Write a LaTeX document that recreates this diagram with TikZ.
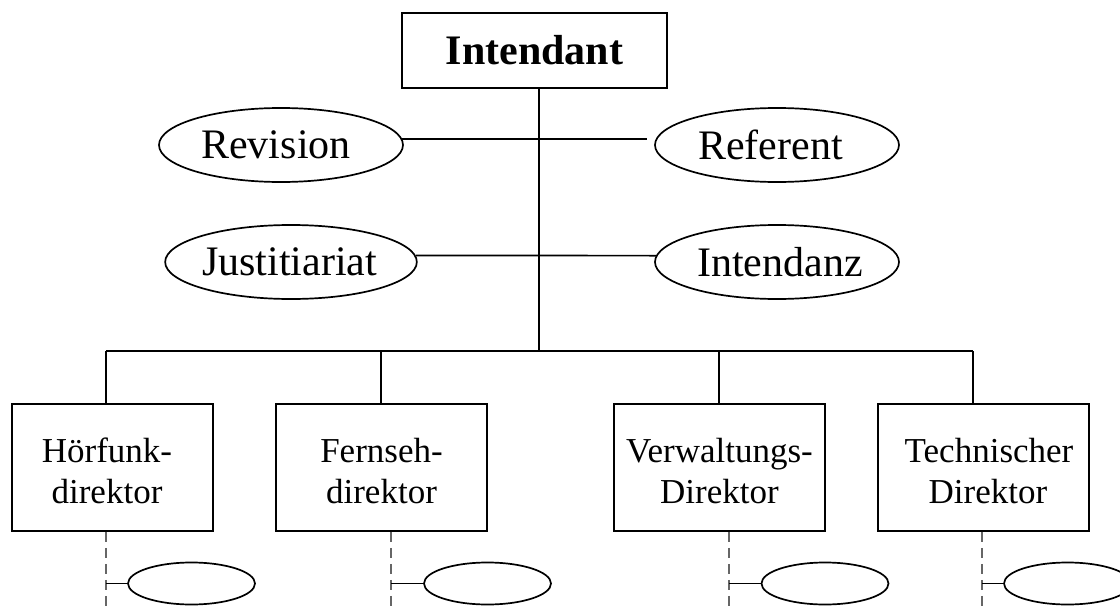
\documentclass[tikz,border=0pt]{standalone}
\usepackage{fontspec}
\setmainfont{Liberation Serif}
\usetikzlibrary{shapes.geometric}
\newcommand{\lstrut}{\rule{0pt}{32pt}}
\begin{document}
\begin{tikzpicture}[x=1pt,y=-1pt,
  line width=1.7pt,
  topbox/.style={draw, rectangle, minimum width=265pt, minimum height=75pt, inner sep=0pt, font=\bfseries\fontsize{42}{48}\selectfont},
  oval/.style={draw, ellipse, minimum width=244pt, minimum height=74pt, inner sep=0pt, font=\fontsize{42}{48}\selectfont},
  dirbox/.style={draw, rectangle, minimum height=127pt, inner sep=0pt, align=center, font=\fontsize{35}{41}\selectfont},
  subov/.style={draw, ellipse, minimum width=127pt, minimum height=42pt, inner sep=0pt},
  dashline/.style={dash pattern=on 10pt off 6pt, line width=1.2pt, black!60}
]
\useasboundingbox (0,0) rectangle (1120,610);
\clip (0,0) rectangle (1120,610);

% top
\node[topbox] (int) at (534.5,50.5) {Intendant};
\node[oval] (rev) at (281,145) {Revision\hspace*{10pt}};
\node[oval] (ref) at (777,145) {Referent\hspace*{13pt}};
\node[oval] (jus) at (291,262) {Justitiariat\hspace*{3pt}};
\node[oval] (itz) at (777,262) {\hspace*{6pt}Intendanz};

% spine and bus
\coordinate (bus) at (539,351);
\coordinate (busL) at (106,351);
\coordinate (busF) at (381,351);
\coordinate (busV) at (719,351);
\coordinate (busR) at (973,351);
\draw (int.south -| bus) -- (bus);
\draw (rev.3) -- ([xshift=-9pt]ref.177);
\draw (jus.3) -- (itz.177);
\draw (busL) -- (busR);

% directors
\node[dirbox, minimum width=201pt] (hf) at (112.5,467.5) {\lstrut Hörfunk-\hspace*{11pt}\\direktor\hspace*{11pt}};
\node[dirbox, minimum width=211pt] (fs) at (381.5,467.5) {\lstrut Fernseh-\\direktor};
\node[dirbox, minimum width=211pt] (vw) at (719.5,467.5) {\lstrut Verwaltungs-\\Direktor};
\node[dirbox, minimum width=211pt] (tc) at (983.5,467.5) {\lstrut\hspace*{11pt}Technischer\\\hspace*{9pt}Direktor};

\draw (busL) -- (busL |- hf.north);
\draw (busF) -- (busF |- fs.north);
\draw (busV) -- (busV |- vw.north);
\draw (busR) -- (busR |- tc.north);

% dashed lines downwards
\coordinate (dH) at (106,612);
\coordinate (dF) at (391,612);
\coordinate (dV) at (729,612);
\coordinate (dT) at (982,612);
\draw[dashline] (hf.south -| dH) -- (dH);
\draw[dashline] (fs.south -| dF) -- (dF);
\draw[dashline] (vw.south -| dV) -- (dV);
\draw[dashline] (tc.south -| dT) -- (dT);

% sub ellipses
\node[subov] (sH) at (191.5,583.5) {};
\node[subov] (sF) at (487.5,583.5) {};
\node[subov] (sV) at (825,583.5) {};
\node[subov] (sT) at (1067.5,583.5) {};
\draw (dH |- sH.west) -- (sH.west);
\draw (dF |- sF.west) -- (sF.west);
\draw (dV |- sV.west) -- (sV.west);
\draw (dT |- sT.west) -- (sT.west);
\end{tikzpicture}
\end{document}
